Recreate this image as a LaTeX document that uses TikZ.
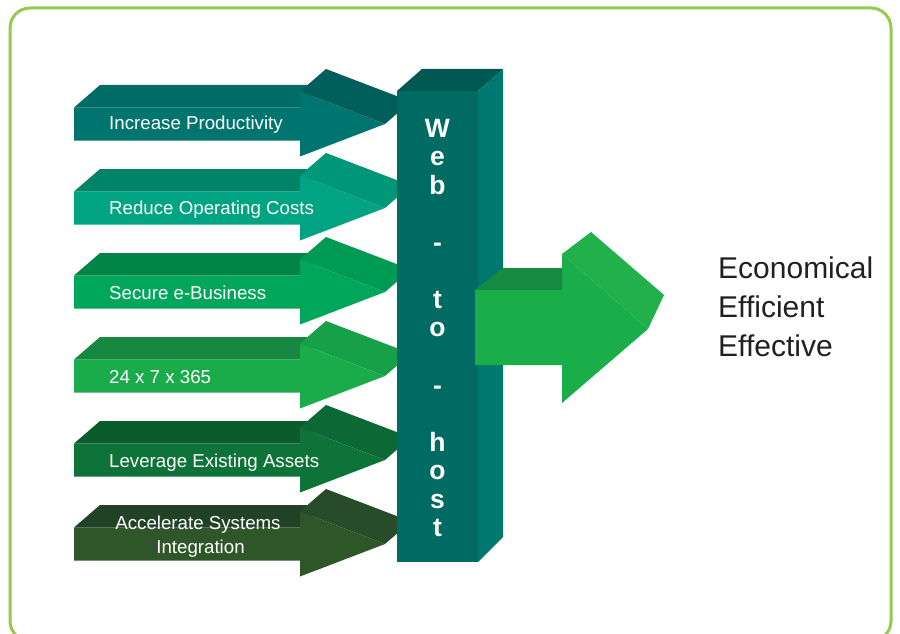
\documentclass[tikz,border=0pt]{standalone}
\usepackage{fontspec}
\setmainfont{Liberation Sans}
\definecolor{frameclr}{HTML}{97C94F}
\definecolor{fa}{HTML}{00756F}\definecolor{ta}{HTML}{006C66}\definecolor{sa}{HTML}{005F5A}
\definecolor{fb}{HTML}{00A382}\definecolor{tb}{HTML}{008468}\definecolor{sb}{HTML}{009678}
\definecolor{fc}{HTML}{00A65A}\definecolor{tc}{HTML}{008448}\definecolor{sc}{HTML}{009A54}
\definecolor{fd}{HTML}{1AAC4A}\definecolor{td}{HTML}{168840}\definecolor{sd}{HTML}{16A048}
\definecolor{fe}{HTML}{0E7338}\definecolor{te}{HTML}{0A5C2D}\definecolor{se}{HTML}{0C6834}
\definecolor{ff}{HTML}{2E5628}\definecolor{tf}{HTML}{224228}\definecolor{sf}{HTML}{284C2A}
\definecolor{colfront}{HTML}{006B63}\definecolor{colside}{HTML}{007870}\definecolor{coltop}{HTML}{005852}
\definecolor{bigfront}{HTML}{1AAE4B}\definecolor{bigtop}{HTML}{168A40}\definecolor{bigside}{HTML}{22B04B}
\definecolor{darktext}{HTML}{231F20}
\begin{document}
\begin{tikzpicture}[x=1pt,y=-1pt,
  lbl/.style={text=white,font=\fontsize{18.7}{22}\selectfont,inner sep=0pt},
  colletter/.style={text=white,font=\fontsize{26.5}{28}\selectfont\bfseries,inner sep=0pt,anchor=base},
  outtext/.style={text=darktext,font=\fontsize{30}{39}\selectfont,inner sep=0pt,anchor=base west},
  frameline/.style={draw=frameclr,line width=3pt,rounded corners=20pt}]
\clip (0,0) rectangle (900,634);
\fill[white] (0,0) rectangle (900,634);
\draw[frameline] (10,8) rectangle (891,641);
% left arrows
\foreach \i/\f/\t/\s in {0/fa/ta/sa,1/fb/tb/sb,2/fc/tc/sc,3/fd/td/sd,4/fe/te/se,5/ff/tf/sf}{
  \pgfmathsetmacro\T{107.5+84*\i}
  \fill[fill=\t] (74,\T) -- (100,\T-22.5) -- (326,\T-22.5) -- (300,\T) -- cycle;
  \fill[fill=\s] (300,\T-16) -- (326,\T-38.5) -- (411,\T-6) -- (385,\T+16.5) -- cycle;
  \fill[fill=\f] (74,\T) -- (300,\T) -- (300,\T-16) -- (385,\T+16.5) -- (300,\T+49) -- (300,\T+33) -- (74,\T+33) -- cycle;
}
\node[lbl,anchor=base west] (l1) at (109,129.5) {Increase Productivity};
\node[lbl,anchor=base west] (l2) at (109,214) {Reduce Operating Costs};
\node[lbl,anchor=base west] (l3) at (109,299.5) {Secure e-Business};
\node[lbl,anchor=base west] (l4) at (109,383) {24 x 7 x 365};
\node[lbl,anchor=base west] (l5) at (109,467) {Leverage Existing Assets};
\node[lbl,anchor=base] (l6a) at (198,529) {Accelerate Systems};
\node[lbl,anchor=base] (l6b) at (200.5,553) {Integration};
% column
\fill[coltop] (397,91) -- (422,69) -- (503,69) -- (478,91) -- cycle;
\fill[colside] (478,91) -- (503,69) -- (503,537) -- (478,562) -- cycle;
\fill[colfront] (397,91) rectangle (478,562);
\foreach \ch/\r in {W/0,e/1,b/2,-/4,t/6,o/7,-/9,h/11,o/12,s/13,t/14}{
  \node[colletter] (c\r) at (437.5,{137+28.57*\r}) {\ch};
}
% big arrow
\fill[bigtop] (475,290) -- (503,268) -- (562,268) -- (562,290) -- cycle;
\fill[bigside] (562,254) -- (591,232) -- (664,295) -- (648,329) -- cycle;
\fill[bigfront] (475,290) -- (562,290) -- (562,254) -- (648,329) -- (562,403) -- (562,365) -- (475,365) -- cycle;
% outcome text
\node[outtext] (o1) at (718,278) {Economical};
\node[outtext] (o2) at (718,317) {Efficient};
\node[outtext] (o3) at (718,356) {Effective};
\end{tikzpicture}
\end{document}
